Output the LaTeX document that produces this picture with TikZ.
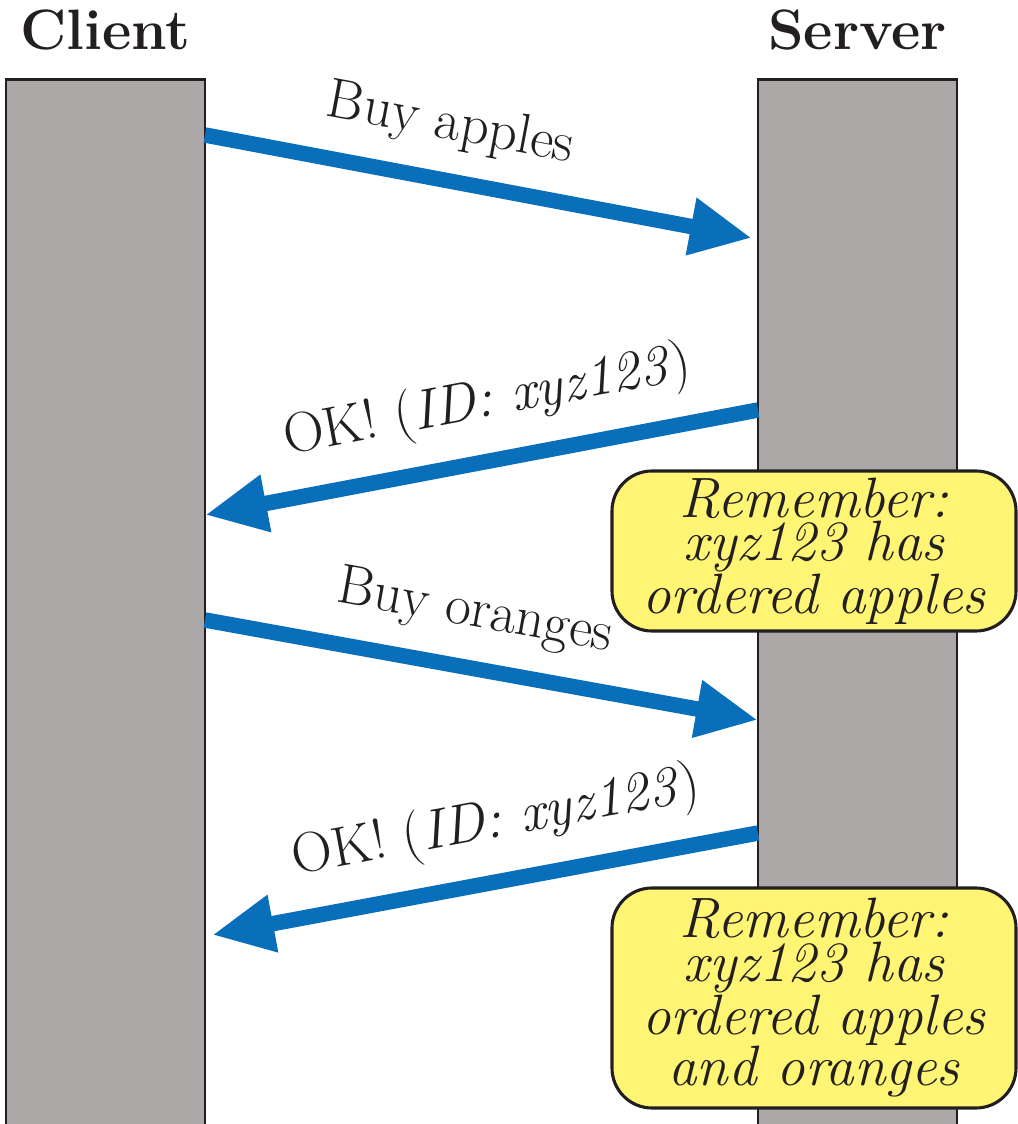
\documentclass[tikz,border=0pt]{standalone}
\usetikzlibrary{arrows.meta,positioning}
\definecolor{msgblue}{RGB}{9,111,186}
\definecolor{bargray}{RGB}{172,168,167}
\definecolor{noteyellow}{RGB}{255,245,117}
\definecolor{inkblack}{RGB}{35,31,32}
\begin{document}
\begin{tikzpicture}[
    lifeline/.style={draw=inkblack, line width=1.8pt, fill=bargray, minimum width=4.975cm, minimum height=27cm, anchor=north, inner sep=0pt},
    title/.style={font=\fontsize{40.5}{42}\selectfont\bfseries, text=inkblack, inner sep=0pt},
    msg/.style={draw=msgblue, line width=11pt, -{Triangle[length=1.55cm, width=1.35cm]}},
    msglabel/.style={font=\fontsize{40}{42}\selectfont, text=inkblack, inner sep=0pt, sloped, above=0.55cm},
    note/.style={draw=inkblack, line width=2.2pt, fill=noteyellow, rounded corners=1cm, minimum width=10.1cm, align=center, font=\fontsize{40.5}{31}\selectfont\itshape, text=inkblack}
]
    \useasboundingbox (0,0) rectangle (25.45,28.1);

    % Client and server lifelines
    \node[lifeline] (client) at (2.6375,26.15) {};
    \node[lifeline] (server) at (21.4375,26.15) {};
    \node[title, above=0.7cm of client.north] (clientname) {Client};
    \node[title, above=0.7cm of server.north] (servername) {Server};

    % Message end points
    \coordinate (buy1) at (5.125,24.725);
    \coordinate (got1) at (18.8,22.15);
    \coordinate (ok1) at (18.95,17.85);
    \coordinate (back1) at (5.125,15.225);
    \coordinate (buy2) at (5.125,12.6);
    \coordinate (got2) at (18.95,10.1);
    \coordinate (ok2) at (18.95,7.275);
    \coordinate (back2) at (5.3,4.725);

    % Messages
    \draw[msg] (buy1) -- node[msglabel, pos=0.43] (buyapples) {Buy apples} (got1);
    \draw[msg] (ok1) -- node[msglabel, pos=0.47] (reply1) {OK! (\textit{ID: xyz123})} (back1);
    \draw[msg] (buy2) -- node[msglabel, pos=0.47] (buyoranges) {Buy oranges} (got2);
    \draw[msg] (ok2) -- node[msglabel, pos=0.46] (reply2) {OK! (\textit{ID: xyz123})} (back2);

    % Server state
    \node[note, minimum height=4cm] (note1) at (20.35,14.325) {Remember:\\xyz123 has\\ordered apples};
    \node[note, minimum height=5.5cm] (note2) at (20.35,3.15) {Remember:\\xyz123 has\\ordered apples\\and oranges};
\end{tikzpicture}
\end{document}
